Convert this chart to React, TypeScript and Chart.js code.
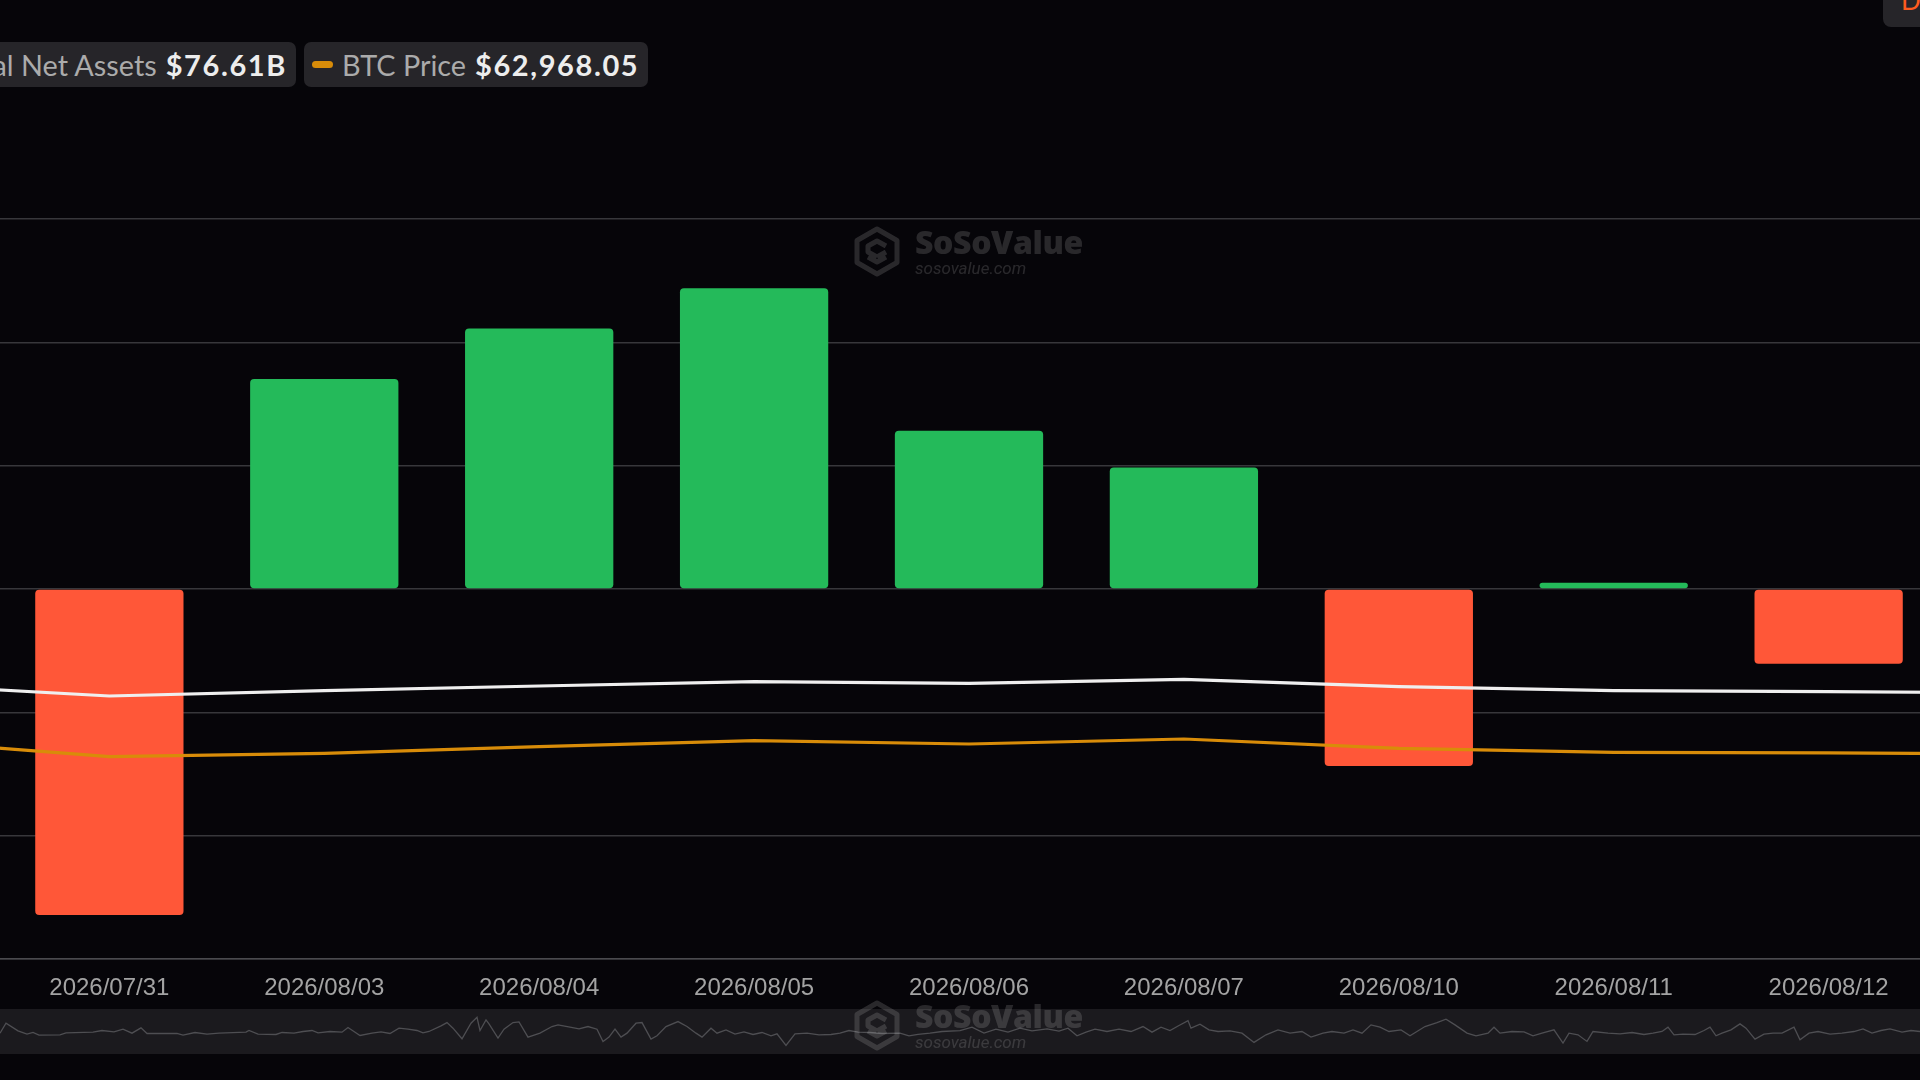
import React, { useEffect, useRef } from "react";
import { Chart, registerables } from "chart.js";

Chart.register(...registerables);

// ---------------- data ----------------
const dates = [
  "2026/07/30", "2026/07/31", "2026/08/03", "2026/08/04", "2026/08/05",
  "2026/08/06", "2026/08/07", "2026/08/10", "2026/08/11", "2026/08/12", "2026/08/13",
];
// Daily total net inflow, $M (first / last day lie outside the visible window)
const dailyNetInflow: (number | null)[] = [
  null, -264.3, 170.3, 211.2, 243.9, 128.3, 98.6, -143.6, 5.1, -60.6, null,
];
// Total net assets, $B
const totalNetAssets = [78.73, 75.35, 76.86, 78.21, 79.44, 78.98, 80.13, 78.01, 76.86, 76.61, 76.2];
// BTC price, $
const btcPrice = [66823, 61784, 62822, 64838, 66670, 65662, 67189, 64349, 63127, 62968.05, 62547];

const flowMin = -300;
const flowMax = 300;
const flowStep = 100;
const tnaMin = 0;
const tnaMax = 212;
const btcMin = 0;
const btcMax = 226000;

const legendTotalNetAssets = "$76.61B";
const legendBtcPrice = "$62,968.05";

// Navigator (full history overview): trading-day index and daily flow ($M)
const navDay = [
  0, 2, 6, 9, 11, 13, 20, 22, 31, 34, 38, 41, 44, 47, 49, 59, 61, 65, 69, 73, 82, 83, 86, 92, 94, 98,
  101, 104, 106, 110, 114, 116, 120, 124, 127, 130, 133, 136, 139, 141, 143, 147, 149, 151, 154, 157,
  159, 160, 162, 163, 166, 168, 171, 173, 176, 180, 184, 186, 190, 193, 196, 199, 201, 203, 205, 207,
  209, 212, 214, 217, 219, 222, 226, 229, 232, 234, 237, 239, 242, 245, 248, 251, 254, 257, 259, 262,
  265, 269, 273, 277, 280, 283, 286, 290, 294, 300, 303, 306, 310, 314, 320,
  324, 328, 332, 336, 340, 344, 349, 353, 356, 359, 362, 365, 369, 373, 377, 381, 384, 387, 390, 393,
  396, 397, 400, 403, 406, 410, 414, 418, 422, 426, 430, 434, 437, 441, 444, 448, 451, 454, 457, 460,
  463, 467, 470, 475, 479, 482, 485, 489, 492, 496, 498, 500, 504, 508, 511, 514, 518, 521, 523, 526,
  529, 531, 536, 540, 544, 548, 551, 554, 556, 558, 561, 565, 568, 570, 572, 574, 577, 580, 582, 585,
  588, 591, 594, 598, 600, 603, 606, 610, 614, 618, 621, 624, 627, 630, 634, 637, 640,
];
const navFlow = [
  0, 600, 140, -60, 40, -120, -100, 20, 60, 160, 80, 240, 0, 320, -20, -20, -120, 40, -60, 0, 60, 160,
  -60, -80, 40, 0, 100, 160, 20, 100, 60, 340, -140, 0, 80, -20, 300, 240, 160, 20, 100, 440, 640, 300,
  -340, 600, 960, 160, 800, 560, -300, 240, 640, 680, -240, 0, 400, 500, 360, 260, 400, 240, -500,
  -240, 240, -240, 0, 600, 640, -360, -160, 400, 700, 400, 0, -240, 300, 0, 200, -60, 80, -80, 40,
  -160, -40, -740, -40, 0, -100, -80, 0, 160, 60, 40, -20, 0, -160, -80, 0, 100, 150,
  360, 0, 240, 60, 300, 140, 260, 120, 300, -160, 60, 240, 100, 240, 100, 400, 60, 360, 160, 460,
  760, 300, 540, 200, 100, 140, 0, -560, -100, 200, 0, 100, -240, 0, 100, 0, 200, 0, 500, 360,
  100, 200, -160, 400, 640, 840, 500, 0, -160, 0, 360, 0, 100, 80, -160, 0, 200, -600, 0, -100,
  -500, 100, 0, -40, 40, -80, 0, 100, 360, -100, -60, -80, 160, 360, -160, 0, 200, 560, 300, -360,
  -60, 0, 0, 360, -400, 0, 100, -60, 0, 100, 260, 0, 160, 260, 60, 160, 100,
];
const navDayMin = 0;
const navDayMax = 640;
const navFlowMin = -1260;
const navFlowMax = 1460;

// ---------------- styles ----------------
const BG = "#060509";
const GREEN = "#24BA5A";
const RED = "#FF5738";
const ORANGE = "#D88C09";
const WHITE_LINE = "#EFEFEF";
const PILL = "#262529";

function Watermark({ top }: { top: number }) {
  return (
    <div style={{ position: "absolute", left: 854, top, width: 240, height: 56, opacity: 0.14, color: "#fff", pointerEvents: "none" }}>
      <svg width="46" height="51" viewBox="0 0 46 51" style={{ position: "absolute", left: 0, top: 0 }}>
        <g fill="none" stroke="#fff" strokeWidth="5" strokeLinejoin="round">
          <path d="M23 3 L43 14.5 L43 36.5 L23 48 L3 36.5 L3 14.5 Z" />
          <path d="M32 20 L23 15 L14 20 L14 26 L23 31" />
          <path d="M23 31 L32 26 M14 31 L23 36 L32 31" />
        </g>
      </svg>
      <div style={{ position: "absolute", left: 61, top: 0, fontFamily: "'Open Sans', sans-serif", fontWeight: 800, fontSize: 32, lineHeight: "32px", letterSpacing: -0.4, whiteSpace: "nowrap" }}>
        SoSoValue
      </div>
      <div style={{ position: "absolute", left: 61, top: 34, fontFamily: "Roboto, sans-serif", fontStyle: "italic", fontSize: 17, lineHeight: "17px", whiteSpace: "nowrap" }}>
        sosovalue.com
      </div>
    </div>
  );
}

function LegendPill({ color, label, value, style }: { color: string; label: string; value: string; style: React.CSSProperties }) {
  return (
    <div
      style={{
        position: "absolute",
        top: 42,
        height: 45,
        display: "flex",
        alignItems: "center",
        background: PILL,
        borderRadius: 7,
        padding: "0 9px 0 8px",
        fontFamily: "Lato, sans-serif",
        whiteSpace: "nowrap",
        ...style,
      }}
    >
      <span style={{ display: "inline-block", width: 21, height: 7, borderRadius: 4, background: color, marginRight: 9 }} />
      <span style={{ color: "#ABABAB", fontSize: 28.8, marginRight: 9 }}>{label}</span>
      <span style={{ color: "#EDEDED", fontWeight: 700, fontSize: 29, letterSpacing: 1.6 }}>{value}</span>
    </div>
  );
}

export default function App() {
  const mainRef = useRef<HTMLCanvasElement>(null);
  const navRef = useRef<HTMLCanvasElement>(null);

  useEffect(() => {
    if (!mainRef.current || !navRef.current) return;
    const barColors = dailyNetInflow.map((v) => ((v ?? 0) >= 0 ? GREEN : RED));

    const main = new Chart(mainRef.current, {
      type: "bar",
      data: {
        labels: dates,
        datasets: [
          {
            type: "line",
            label: "Total Net Assets",
            data: totalNetAssets,
            yAxisID: "yTna",
            borderColor: WHITE_LINE,
            borderWidth: 3.2,
            pointRadius: 0,
            tension: 0,
            order: 1,
          } as any,
          {
            type: "line",
            label: "BTC Price",
            data: btcPrice,
            yAxisID: "yBtc",
            borderColor: ORANGE,
            borderWidth: 3.2,
            pointRadius: 0,
            tension: 0,
            order: 2,
          } as any,
          {
            type: "bar",
            label: "Daily Total Net Inflow",
            data: dailyNetInflow,
            yAxisID: "y",
            backgroundColor: barColors,
            borderRadius: 4,
            borderSkipped: false,
            barPercentage: 0.69,
            categoryPercentage: 1,
            order: 3,
          },
        ],
      },
      options: {
        responsive: false,
        maintainAspectRatio: false,
        animation: false,
        layout: { padding: { top: 219, left: 0, right: 0, bottom: 0 } },
        plugins: { legend: { display: false }, tooltip: { enabled: false } },
        scales: {
          x: {
            offset: true,
            grid: { display: false, drawTicks: false },
            border: { display: true, color: "#4A4A4E", width: 1.5 },
            ticks: {
              color: "#A3A3A3",
              font: { family: "'Liberation Sans', Arial, sans-serif", size: 24 },
              padding: 15,
              maxRotation: 0,
              autoSkip: false,
            },
            afterFit: (s: any) => {
              s.height = 41;
            },
          },
          y: {
            position: "left",
            min: flowMin,
            max: flowMax,
            ticks: { display: false, stepSize: flowStep },
            grid: { color: "#37373B", lineWidth: 1.5, drawTicks: false },
            border: { display: false },
            afterFit: (s: any) => {
              s.width = 0;
            },
          },
          yTna: { display: false, min: tnaMin, max: tnaMax },
          yBtc: { display: false, min: btcMin, max: btcMax },
        },
      },
    });

    const nav = new Chart(navRef.current, {
      type: "line",
      data: {
        datasets: [
          {
            data: navDay.map((d, i) => ({ x: d, y: navFlow[i] })),
            borderColor: "#4E4E52",
            borderWidth: 1.3,
            pointRadius: 0,
            tension: 0,
          },
        ],
      },
      options: {
        responsive: false,
        maintainAspectRatio: false,
        animation: false,
        layout: { padding: 0 },
        plugins: { legend: { display: false }, tooltip: { enabled: false } },
        scales: {
          x: { type: "linear", display: false, min: navDayMin, max: navDayMax },
          y: { display: false, min: navFlowMin, max: navFlowMax },
        },
      },
    });

    return () => {
      main.destroy();
      nav.destroy();
    };
  }, []);

  return (
    <div style={{ position: "fixed", left: 0, top: 0, width: 1920, height: 1080, overflow: "hidden", background: BG }}>
      <canvas ref={mainRef} width={2364} height={1000} style={{ position: "absolute", left: -213, top: 0, width: 2364, height: 1000 }} />
      <div style={{ position: "absolute", left: 0, top: 1009, width: 1920, height: 45, background: "#1B1A1E" }}>
        <canvas ref={navRef} width={1920} height={45} style={{ position: "absolute", left: 0, top: 0, width: 1920, height: 45 }} />
      </div>
      <Watermark top={226} />
      <Watermark top={1000} />
      <LegendPill color={WHITE_LINE} label="Total Net Assets" value={legendTotalNetAssets} style={{ right: 1624 }} />
      <LegendPill color={ORANGE} label="BTC Price" value={legendBtcPrice} style={{ left: 304 }} />
      <div style={{ position: "absolute", left: 1883, top: -22, width: 60, height: 49, borderRadius: 8, background: PILL }}>
        <span style={{ position: "absolute", left: 18, top: 9, fontFamily: "Lato, sans-serif", fontSize: 26, lineHeight: "26px", color: "#FF5B1F" }}>D</span>
      </div>
    </div>
  );
}
